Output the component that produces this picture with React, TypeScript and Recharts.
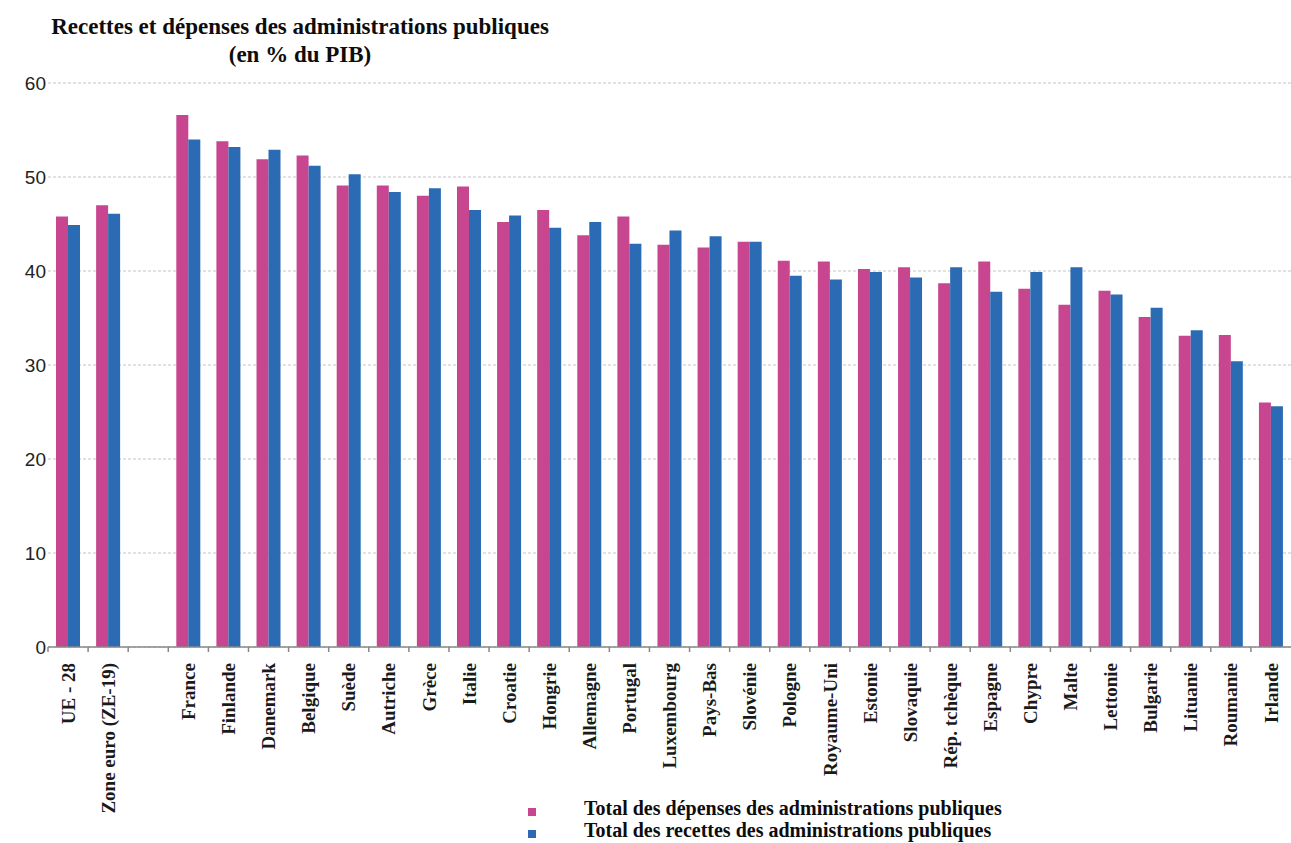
import { Bar, BarChart, CartesianGrid, Legend, XAxis, YAxis } from "recharts"

const categories = [
  "UE - 28",
  "Zone euro (ZE-19)",
  "",
  "France",
  "Finlande",
  "Danemark",
  "Belgique",
  "Suède",
  "Autriche",
  "Grèce",
  "Italie",
  "Croatie",
  "Hongrie",
  "Allemagne",
  "Portugal",
  "Luxembourg",
  "Pays-Bas",
  "Slovénie",
  "Pologne",
  "Royaume-Uni",
  "Estonie",
  "Slovaquie",
  "Rép. tchèque",
  "Espagne",
  "Chypre",
  "Malte",
  "Lettonie",
  "Bulgarie",
  "Lituanie",
  "Roumanie",
  "Irlande",
]

const depenses = [
  45.8, 47.0, null, 56.6, 53.8, 51.9, 52.3, 49.1, 49.1, 48.0, 49.0, 45.2, 46.5,
  43.8, 45.8, 42.8, 42.5, 43.1, 41.1, 41.0, 40.2, 40.4, 38.7, 41.0, 38.1, 36.4,
  37.9, 35.1, 33.1, 33.2, 26.0,
]

const recettes = [
  44.9, 46.1, null, 54.0, 53.2, 52.9, 51.2, 50.3, 48.4, 48.8, 46.5, 45.9, 44.6,
  45.2, 42.9, 44.3, 43.7, 43.1, 39.5, 39.1, 39.9, 39.3, 40.4, 37.8, 39.9, 40.4,
  37.5, 36.1, 33.7, 30.4, 25.6,
]

const yTicks = [0, 10, 20, 30, 40, 50, 60]

const seriesNames = [
  "Total des dépenses des administrations publiques",
  "Total des recettes des administrations publiques",
]

const PINK = "#c8468f"
const BLUE = "#2a6bb3"

const data = categories.map((name, i) => ({
  name,
  depenses: depenses[i],
  recettes: recettes[i],
}))

function CountryTick(props: any) {
  const { x, y, payload } = props
  const half = payload && payload.offset ? payload.offset : 20
  const ly = y + 16
  return (
    <g>
      <line x1={x - half} x2={x - half} y1={y} y2={y + 5} stroke="#888" strokeWidth={1.5} />
      <text
        x={x}
        y={ly}
        dy="0.35em"
        transform={`rotate(-90, ${x}, ${ly})`}
        textAnchor="end"
        fontFamily="'Liberation Serif', serif"
        fontWeight="bold"
        fontSize={19}
        fill="#1a1a1a"
      >
        {payload.value}
      </text>
    </g>
  )
}

function LegendBox() {
  const colors = [PINK, BLUE]
  return (
    <div
      style={{
        fontFamily: "'Liberation Serif', serif",
        fontWeight: "bold",
        fontSize: 20,
        lineHeight: "22px",
        color: "#0d0d0d",
      }}
    >
      {seriesNames.map((s, i) => (
        <div key={s} style={{ display: "flex", alignItems: "center", height: 22 }}>
          <span
            style={{
              display: "inline-block",
              width: 8,
              height: 8,
              background: colors[i],
              marginTop: 8,
              marginRight: 48,
            }}
          />
          <span>{s}</span>
        </div>
      ))}
    </div>
  )
}

export default function App() {
  return (
    <div style={{ position: "relative", width: 1291, height: 843, background: "#fff" }}>
      <style>{"body{margin:0;background:#fff}"}</style>
      <div
        style={{
          position: "absolute",
          left: 30,
          top: 13,
          width: 540,
          textAlign: "center",
          fontFamily: "'Liberation Serif', serif",
          fontWeight: "bold",
          fontSize: 23,
          lineHeight: "28px",
          color: "#0d0d0d",
        }}
      >
        <div>Recettes et dépenses des administrations publiques</div>
        <div>(en % du PIB)</div>
      </div>
      <BarChart
        width={1291}
        height={843}
        data={data}
        margin={{ top: 83, right: 0, left: 4, bottom: 50 }}
        barCategoryGap="20%"
        barGap={0}
      >
        <CartesianGrid vertical={false} stroke="#c4c4c4" strokeDasharray="3 2" />
        <XAxis
          dataKey="name"
          interval={0}
          height={146}
          tickSize={0}
          tickMargin={0}
          tickLine={false}
          axisLine={{ stroke: "#888", strokeWidth: 1.5 }}
          tick={<CountryTick />}
        />
        <YAxis
          width={44}
          domain={[0, 60]}
          ticks={yTicks}
          tickSize={0}
          tickMargin={2}
          axisLine={false}
          tickLine={false}
          tick={{ fontFamily: "'Liberation Sans', Arial, sans-serif", fontSize: 19, fill: "#222" }}
        />
        <Legend
          layout="vertical"
          align="center"
          verticalAlign="middle"
          wrapperStyle={{ left: 528, top: 797, width: 640 }}
          content={<LegendBox />}
        />
        <Bar dataKey="depenses" name={seriesNames[0]} fill={PINK} isAnimationActive={false} />
        <Bar dataKey="recettes" name={seriesNames[1]} fill={BLUE} isAnimationActive={false} />
      </BarChart>
    </div>
  )
}
